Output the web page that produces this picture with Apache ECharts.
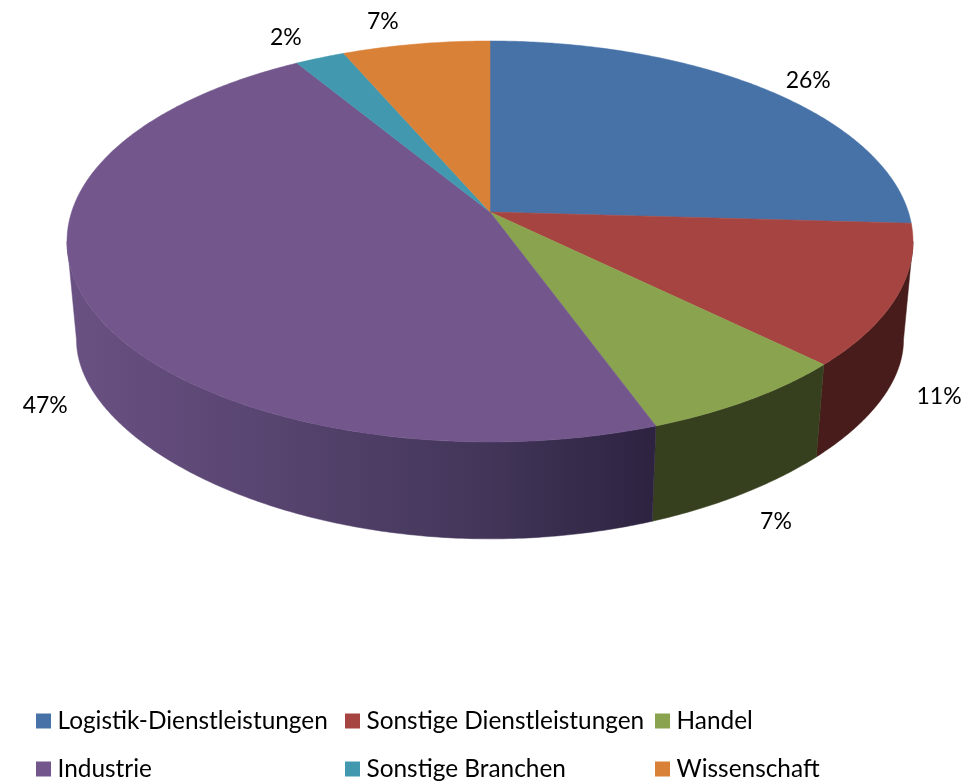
<!DOCTYPE html>
<html>
<head>
<meta charset="utf-8">
<style>html,body{margin:0;padding:0;background:#fff}#chart{width:979px;height:782px}</style>
<script src="https://cdn.jsdelivr.net/npm/echarts@6/dist/echarts.min.js"></script>
</head>
<body>
<div id="chart"></div>
<script>
// values, labels in the source are the rounded ones
var categories = ['Logistik-Dienstleistungen', 'Sonstige Dienstleistungen', 'Handel', 'Industrie', 'Sonstige Branchen', 'Wissenschaft'];
var shares = [25.9, 11.4, 7.15, 46.85, 2.2, 6.5];
var topColors = ['#4672A8', '#A64441', '#8AA34E', '#72568C', '#4198AF', '#DA8138'];

// excel style perspective: unit disc -> screen
var CX = 490, C = 0.147;
var TOP = {k: 418.4, a: 165, b: 212, cy: 0.147};
var BOTTOM = {k: 409, a: 92.3, b: 314, cy: 0.246};
var FONT = 'Lato, sans-serif';
var SILHOUETTE = Math.acos(-C); // wall is only visible between these angles
var labelOffsets = [[42, -9], [42, 101], [27, 122], [-42, 103], [-34, -20], [-33, -23]];
var legendLefts = [36, 345, 655];
var legendTops = [709, 757];
var wallFills = ['#000', '#471C1A', '#37401E', {
  type: 'linear', x: 70, y: 0, x2: 655, y2: 0, global: true,
  colorStops: [
    {offset: 0, color: '#6A5183'},
    {offset: 0.3, color: '#5A4672'},
    {offset: 0.7, color: '#43365A'},
    {offset: 1, color: '#2D2340'}
  ]
}, '#000', '#000'];

var total = shares.reduce(function (s, v) { return s + v; }, 0);

function project(theta, plane) {
  var x = Math.sin(theta), y = Math.cos(theta);
  return [CX + plane.k * x / (1 + C * y), (plane.b - plane.a * y) / (1 + plane.cy * y)];
}

function arc(from, to, plane) {
  var pts = [], n = Math.max(2, Math.ceil((to - from) / 0.01));
  for (var i = 0; i <= n; i++) {
    pts.push(project(from + (to - from) * i / n, plane));
  }
  return pts;
}

function startOf(idx) {
  var s = 0;
  for (var i = 0; i < idx; i++) s += shares[i];
  return s / total * Math.PI * 2;
}

function makeRenderItem(idx) {
  return function (params, api) {
    var start = startOf(idx);
    var end = start + api.value(0) / total * Math.PI * 2;
    var mid = (start + end) / 2;
    var children = [];

    var wallFrom = Math.max(start, SILHOUETTE);
    var wallTo = Math.min(end, Math.PI * 2 - SILHOUETTE);
    if (wallTo > wallFrom) {
      children.push({
        type: 'polygon',
        shape: {points: arc(wallFrom, wallTo, TOP).concat(arc(wallFrom, wallTo, BOTTOM).reverse())},
        style: {fill: wallFills[idx], stroke: wallFills[idx], lineWidth: 0.5}
      });
    }
    children.push({
      type: 'polygon',
      shape: {points: [[CX, TOP.b]].concat(arc(start, end, TOP))},
      style: {fill: topColors[idx], stroke: topColors[idx], lineWidth: 0.5}
    });

    var anchor = project(mid, TOP);
    children.push({
      type: 'text',
      x: anchor[0] + labelOffsets[idx][0],
      y: anchor[1] + labelOffsets[idx][1],
      style: {
        text: Math.round(api.value(0)) + '%',
        fill: '#000',
        font: '23px ' + FONT,
        align: 'center',
        verticalAlign: 'middle'
      }
    });
    return {type: 'group', children: children};
  };
}

// legend is filled row by row over three fixed columns
var legends = categories.map(function (name, i) {
  return {
    left: legendLefts[i % 3],
    top: legendTops[Math.floor(i / 3)],
    padding: 0,
    data: [name],
    icon: 'rect',
    itemWidth: 15,
    itemHeight: 15,
    selectedMode: false,
    textStyle: {color: '#000', fontFamily: FONT, fontSize: 24.4, padding: [0, 0, 0, 1.5]}
  };
});

var chart = echarts.init(document.getElementById('chart'));
chart.setOption({
  animation: false,
  backgroundColor: '#fff',
  legend: legends,
  series: categories.map(function (name, i) {
    return {
      type: 'custom',
      name: name,
      coordinateSystem: 'none',
      silent: true,
      itemStyle: {color: topColors[i]},
      data: [[shares[i]]],
      renderItem: makeRenderItem(i)
    };
  })
});
</script>
</body>
</html>
